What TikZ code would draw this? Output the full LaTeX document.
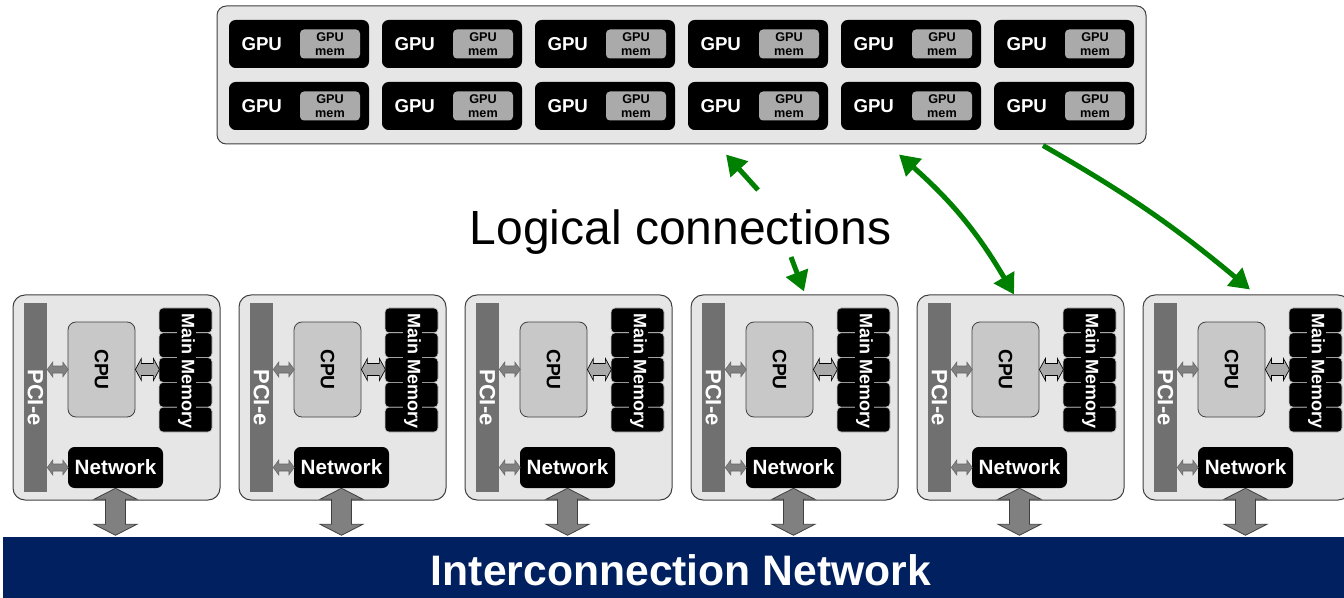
\documentclass[tikz,border=0pt]{standalone}
\usepackage{fontspec}
\setmainfont{Liberation Sans}
\usetikzlibrary{arrows.meta,positioning}
\definecolor{panelgray}{RGB}{230,230,230}
\definecolor{edgegray}{RGB}{64,64,64}
\definecolor{memgray}{RGB}{170,170,170}
\definecolor{cpugray}{RGB}{200,200,200}
\definecolor{pcigray}{RGB}{112,112,112}
\definecolor{arrgray}{RGB}{128,128,128}
\definecolor{linkgreen}{RGB}{0,128,0}
\definecolor{netblue}{RGB}{0,32,96}
%block arrows with a head at both ends (lengths in pixels of the picture)
%#1 style, #2 start tip, #3 length, #4 head length, #5 half head width, #6 half shaft width
\newcommand\hdblarrow[6]{%
    \draw[#1] #2 -- ++(#4,-#5) -- ++(0,#5-#6) -- ++(#3-2*#4,0) -- ++(0,#6-#5) -- ++(#4,#5)
        -- ++(-#4,#5) -- ++(0,#6-#5) -- ++(-#3+2*#4,0) -- ++(0,#5-#6) -- cycle;%
}
\newcommand\vdblarrow[6]{%
    \draw[#1] #2 -- ++(#5,#4) -- ++(#6-#5,0) -- ++(0,#3-2*#4) -- ++(#5-#6,0) -- ++(-#5,#4)
        -- ++(-#5,-#4) -- ++(#5-#6,0) -- ++(0,-#3+2*#4) -- ++(#6-#5,0) -- cycle;%
}

\begin{document}
\begin{tikzpicture}[x=0.75pt,y=-0.75pt,
>={Triangle[length=15pt,width=17pt]},
panel/.style={draw=edgegray,line width=0.75pt,fill=panelgray,rounded corners=7pt,inner sep=0pt},
gpubox/.style={fill=black,rounded corners=5pt,minimum width=105pt,minimum height=36pt,inner sep=0pt},
gputxt/.style={text=white,inner sep=0pt,font=\bfseries\fontsize{14}{14}\selectfont},
gpumem/.style={fill=memgray,rounded corners=3pt,minimum width=45pt,minimum height=21.75pt,inner sep=0pt,
    align=center,font=\bfseries\fontsize{9.5}{10}\selectfont},
nodebox/.style={panel,rounded corners=9pt,minimum width=155.25pt,minimum height=153.75pt},
pcibar/.style={fill=pcigray,minimum width=17.25pt,minimum height=141.75pt,inner sep=0pt},
pcitxt/.style={text=white,rotate=-90,inner sep=0pt,font=\bfseries\fontsize{16.5}{16.5}\selectfont},
cpubox/.style={draw=edgegray,line width=0.6pt,fill=cpugray,rounded corners=6pt,minimum width=50.25pt,minimum height=71.25pt},
cputxt/.style={rotate=-90,inner sep=0pt,font=\bfseries\fontsize{14.5}{14.5}\selectfont},
memchip/.style={fill=black,draw=gray!45,line width=0.5pt,rounded corners=3pt,minimum width=39.75pt,minimum height=18.6pt,inner sep=0pt},
memtxt/.style={text=white,fill=black,rotate=-90,inner sep=1pt,font=\bfseries\fontsize{13.5}{13.5}\selectfont},
netbox/.style={fill=black,rounded corners=5pt,minimum width=71.25pt,minimum height=30.75pt,inner sep=0pt,
    text=white,font=\bfseries\fontsize{15.5}{15.5}\selectfont},
bigarrow/.style={fill=arrgray,draw=edgegray,line width=0.6pt},
pciarrow/.style={fill=arrgray,draw=arrgray!80!black,line width=0.4pt},
memarrow/.style={fill=memgray,draw=black,line width=0.5pt},
link/.style={draw=linkgreen,line width=3.75pt}]

\useasboundingbox (0,0) rectangle (1344,598);

%gpu cluster
\node[panel,minimum width=696.75pt,minimum height=103.5pt] (gpus) at (681.5,75) {};
\foreach \r/\y in {1/44,2/106}{
\foreach \c in {0,...,5}{
	\node[gpubox] (g\r\c) at ({299+153*\c},\y) {};
	\node[gputxt] at ([xshift=24.75pt]g\r\c.west) {GPU};
	\node[gpumem,left=6.75pt of g\r\c.east] (m\r\c) {GPU\\mem};
}}

\node[font=\fontsize{36}{36}\selectfont,anchor=base,inner sep=0pt] (lc) at (680.5,245) {Logical connections};

%compute nodes
\foreach \i [evaluate=\i as \L using {13+226*(\i-1)}] in {1,...,6}{
	\node[nodebox] (box\i) at (\L+103.5,397.5) {};
	\node[pcibar] (pci\i) at (\L+22.5,397.5) {};
	\node[pcitxt] at (pci\i) {PCI-e};
	\node[cpubox] (cpu\i) at (\L+88.5,369.5) {};
	\node[cputxt] at (cpu\i) {CPU};
	\foreach \k in {0,...,4}
		\node[memchip] (mem\i\k) at (\L+172.5,{320.4+24.8*\k}) {};
	\node[memtxt] at (\L+173.5,371) {Main Memory};
	\node[netbox] (net\i) at (\L+102.5,467.5) {Network};
	%links inside the node
	\hdblarrow{pciarrow}{(pci\i.east |- cpu\i.west)}{21}{5.5}{7.5}{3.5}
	\hdblarrow{memarrow}{(cpu\i.east)}{24}{6}{11}{6}
	\hdblarrow{pciarrow}{(pci\i.east |- net\i.west)}{21}{5.5}{7.5}{3.5}
}

%interconnect
\node[fill=netblue,minimum width=1005.75pt,minimum height=45.75pt,inner sep=0pt] (bus) at (673.5,567.5) {};
\node[text=white,inner sep=0pt,font=\bfseries\fontsize{32}{32}\selectfont] at (681,570) {Interconnection Network};
\foreach \i in {1,...,6}{
	\vdblarrow{bigarrow}{(net\i.south)}{47}{11}{21.5}{10}
}

%logical connections
\draw[link,->] ([shift={(77.5,-55)}]lc.base) -- ([shift={(44.5,10)}]gpus.south);
\draw[link,->] ([shift={(110.5,12)}]lc.base) -- ([shift={(9.5,-3)}]box4.north);
\draw[link,<->] ([shift={(217.5,10)}]gpus.south) to[bend left=9] ([shift={(-6.5,0)}]box5.north);
\draw[link,->] ([shift={(361.5,1)}]gpus.south) to[bend left=5] ([shift={(3.5,-5)}]box6.north);

\end{tikzpicture}
\end{document}
